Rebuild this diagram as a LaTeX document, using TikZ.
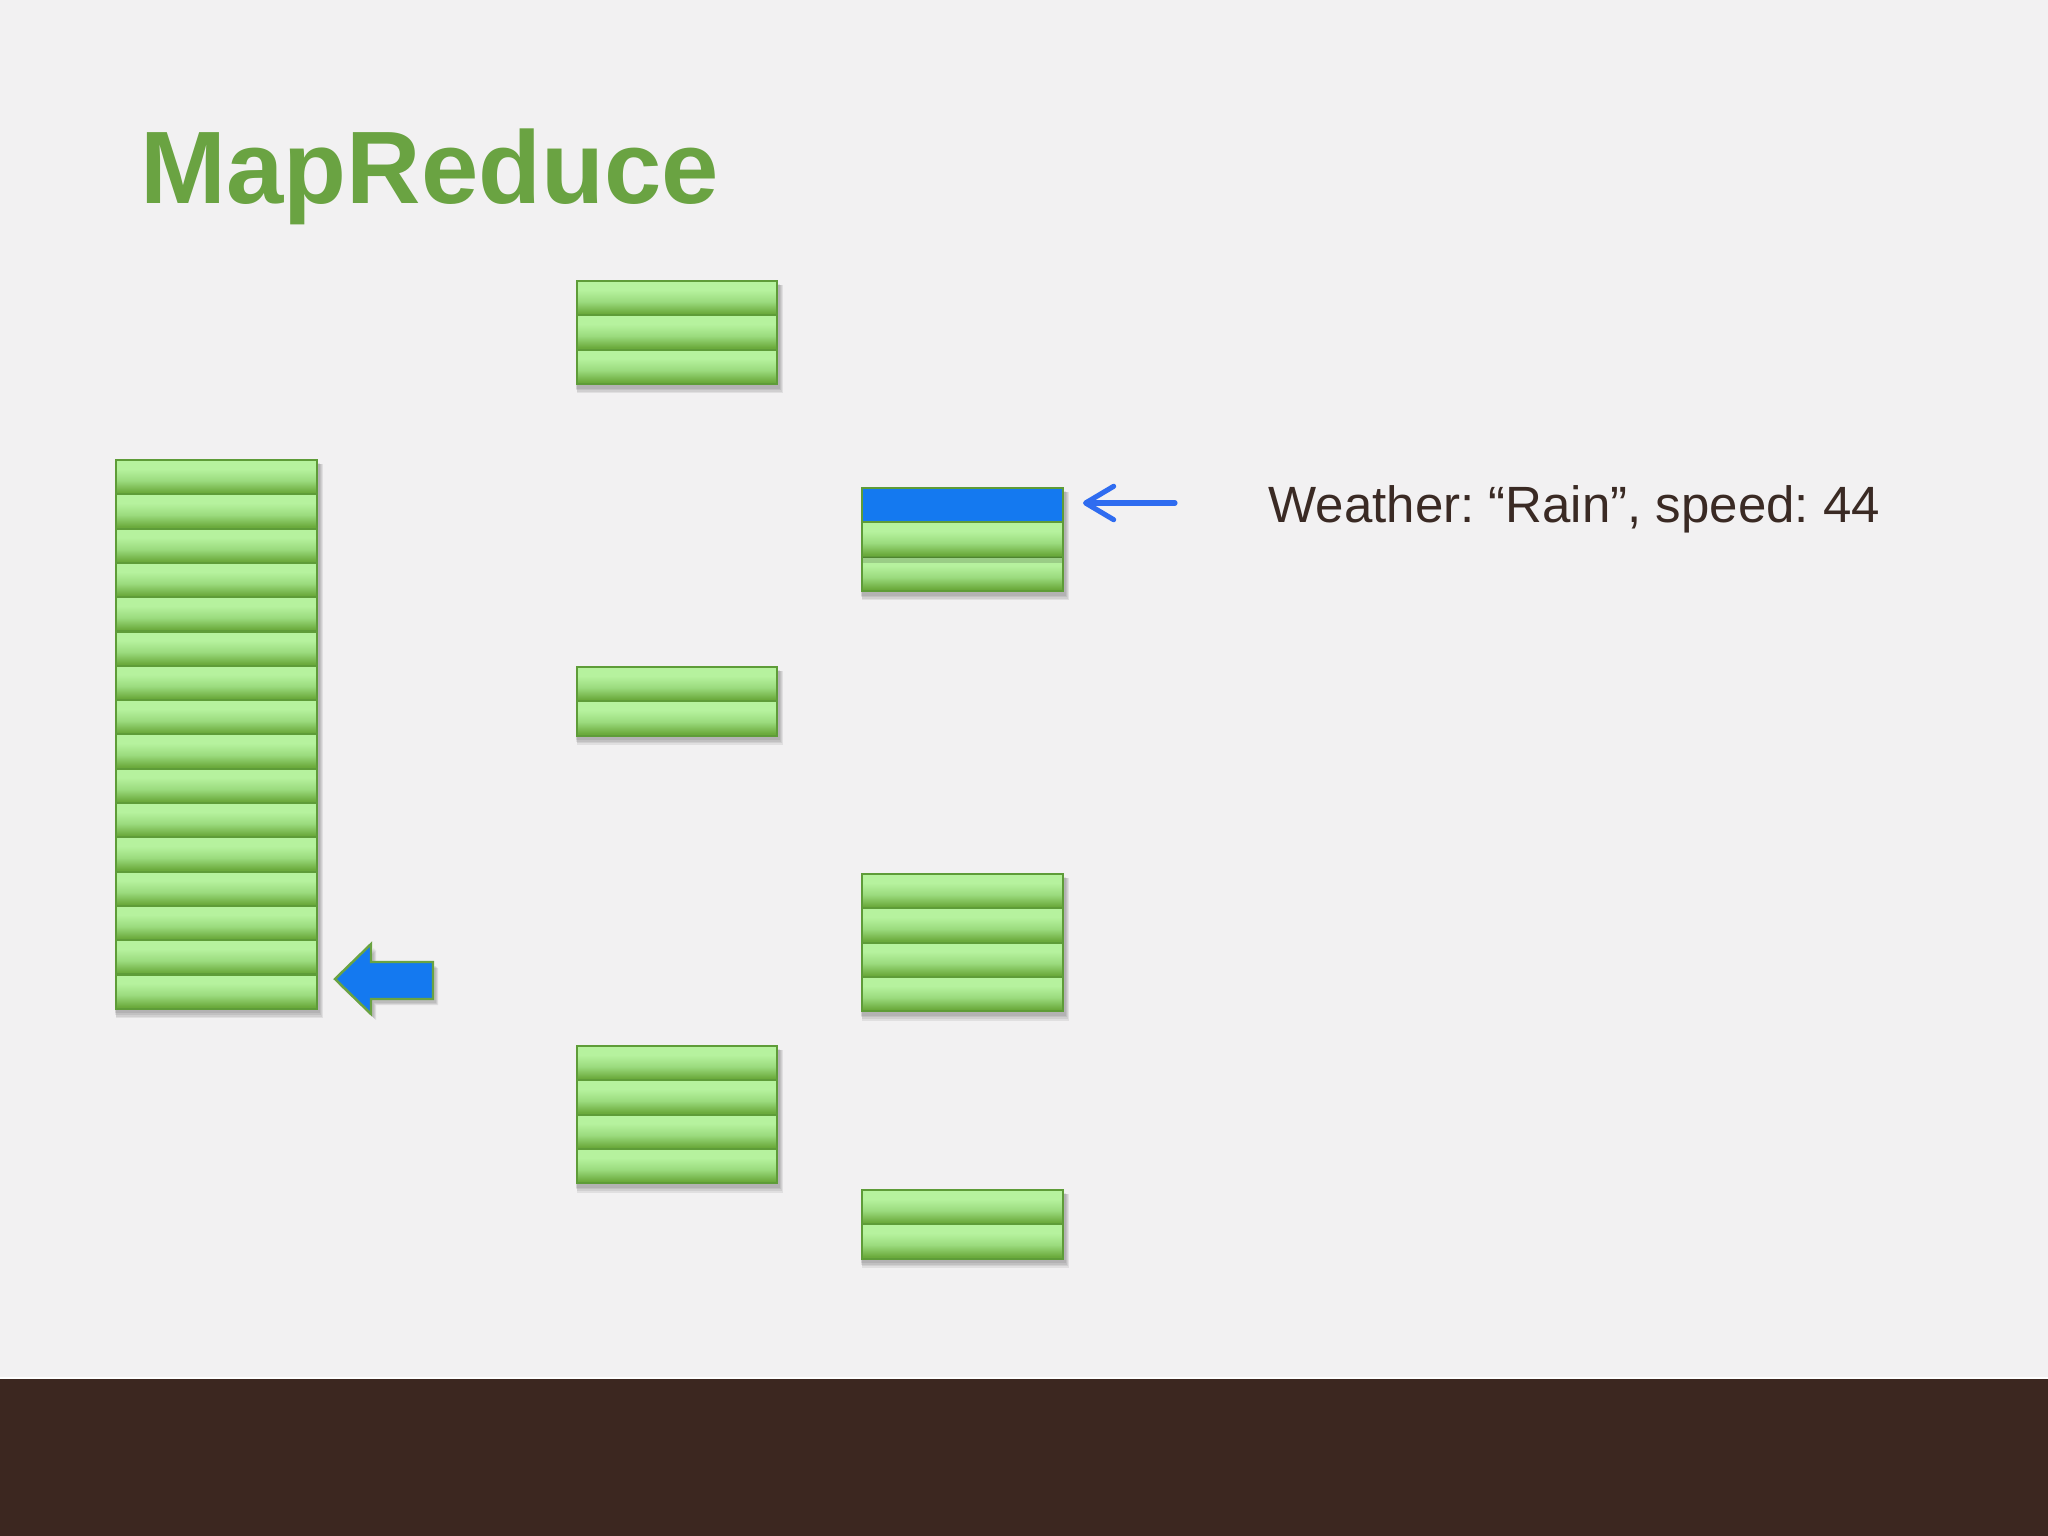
\documentclass[tikz,border=0pt]{standalone}
\usepackage{fontspec}
\setmainfont{Liberation Sans}
\usetikzlibrary{arrows.meta}
\definecolor{bgc}{HTML}{F2F1F2}
\definecolor{barc}{HTML}{3C2720}
\definecolor{titlec}{HTML}{6AA342}
\definecolor{textc}{HTML}{3A2A24}
\definecolor{glight}{HTML}{B6F29E}
\definecolor{gmid}{HTML}{9BDB7E}
\definecolor{gdark}{HTML}{6BAA3C}
\definecolor{gline}{HTML}{5E9C38}
\definecolor{bluefill}{HTML}{1479F0}
\definecolor{thinblue}{HTML}{2F6CF0}
\pgfdeclareverticalshading{rowshade}{100bp}{color(0bp)=(gdark); color(28bp)=(gdark); color(45bp)=(gmid); color(62bp)=(glight); color(100bp)=(glight)}
\tikzset{
  rowbox/.style={shading=rowshade, draw=gline, line width=0.6pt},
  bluerow/.style={fill=bluefill, draw=gline, line width=0.6pt},
  shadowbox/.style={fill=black, opacity=0.07, draw=none},
  thinarrow/.style={draw=thinblue, line width=1.45pt, line cap=round,
    -{Straight Barb[round, length=8pt, width=9.5pt, line width=1.45pt]}},
  blockarrow/.style={fill=bluefill, draw=titlec, line width=0.7pt, line join=miter},
  titletext/.style={inner sep=0pt, anchor=base west, text=titlec,
    font=\fontsize{29.3pt}{35pt}\selectfont\bfseries},
  bodytext/.style={inner sep=0pt, anchor=base west, text=textc,
    font=\fontsize{14.5pt}{18pt}\selectfont\frenchspacing}
}
\newcommand{\rowh}{34.3}
\newcommand{\stackshadow}[4]{%
  \foreach \k in {1,...,4}{%
    \fill[shadowbox] ({#1-2+\k*0.6},{#3+3+\k*0.3}) rectangle ({#2+2+\k*0.9},{#3+#4*\rowh+3+\k*1.6});
  }%
}
\newcommand{\mystack}[4]{%
  \stackshadow{#1}{#2}{#3}{#4}%
  \foreach \i in {1,...,#4}{%
    \path[rowbox] (#1,{#3+(\i-1)*\rowh}) rectangle (#2,{#3+\i*\rowh});
  }%
}
\begin{document}
\begin{tikzpicture}[x=0.01cm,y=-0.01cm]
\useasboundingbox (0,0) rectangle (2048,1536);
\fill[bgc] (0,0) rectangle (2048,1536);
\fill[barc] (0,1379) rectangle (2048,1536);
\draw[white, line width=0.5pt] (0,1378) -- (2048,1378);

% title
\node[titletext] (title) at (140,203) {MapReduce};

% left big stack
\mystack{116}{317}{460}{16}

% middle column
\mystack{577}{777}{281}{3}
\mystack{577}{777}{667}{2}
\mystack{577}{777}{1046}{4}

% right column
\stackshadow{862}{1063}{488}{3}
\path[bluerow] (862,488) rectangle (1063,522.3) node[midway, inner sep=0pt] (bluerec) {};
\path[rowbox] (862,522.3) rectangle (1063,556.6);
\path[rowbox] (862,556.6) rectangle (1063,590.9);
\fill[black, opacity=0.15] (863,557) rectangle (1062,563);
\mystack{862}{1063}{874}{4}
\mystack{862}{1063}{1190}{2}

% thin arrow
\coordinate (tailpt) at (1175,503);
\coordinate (tippt) at (1083,503);
\draw[thinarrow] (tailpt) -- (tippt);

% text
\node[bodytext] (weather) at (1268,522) {Weather: “Rain”, speed: 44};

% block arrow with shadow
\foreach \k in {1,...,3}{
  \fill[black, opacity=0.08] ({335+2+\k},{980+3+\k}) -- ({371+2+\k},{944+3+\k}) -- ({371+2+\k},{962+3+\k}) -- ({433+2+\k},{962+3+\k}) -- ({433+2+\k},{999+3+\k}) -- ({371+2+\k},{999+3+\k}) -- ({371+2+\k},{1014+3+\k}) -- cycle;
}
\path[blockarrow] (335,979) -- (371,944) -- (371,962) -- (433,962) -- (433,999) -- (371,999) -- (371,1014) -- cycle;
\end{tikzpicture}
\end{document}
